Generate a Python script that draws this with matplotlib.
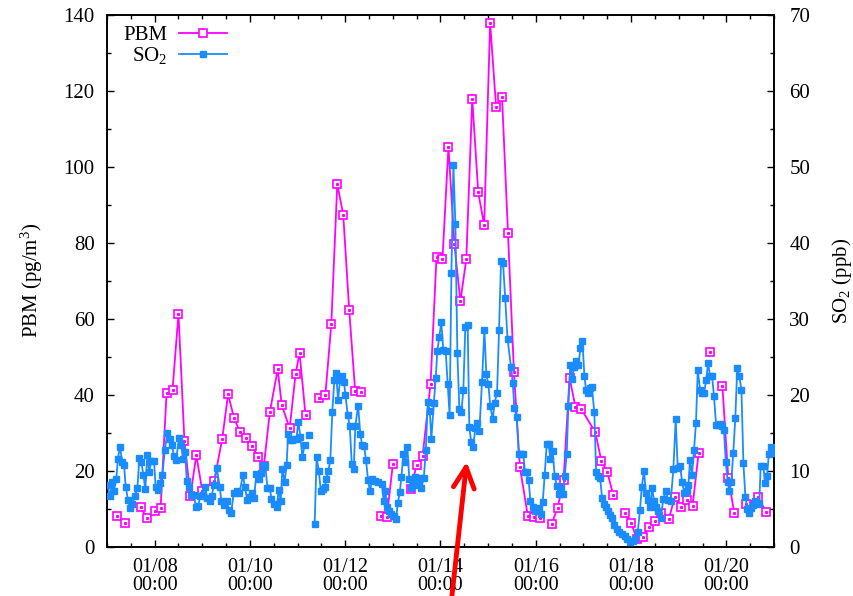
import numpy as np
import pandas as pd
import matplotlib
matplotlib.use('Agg')
import matplotlib.pyplot as plt
import matplotlib.dates as mdates
from matplotlib.ticker import MultipleLocator

plt.rcParams['font.family'] = ['Liberation Serif', 'DejaVu Serif']
plt.rcParams['mathtext.fontset'] = 'custom'
plt.rcParams['mathtext.rm'] = 'Liberation Serif'
plt.rcParams['mathtext.it'] = 'Liberation Serif:italic'

# ------------------------------------------------------------------
# data: hours since 01/07 00:00
t0 = pd.Timestamp('2014-01-07 00:00')

pbm_hours = [5, 9, 13, 17, 20, 24, 27, 30, 33, 36, 39, 42, 45, 48, 54, 58, 61, 64, 67, 70,
             73, 76, 79, 82, 86, 88, 92, 95, 97, 100, 103, 107, 110, 113, 116, 119, 122, 125,
             128, 132, 138, 141, 144, 148, 153, 156, 159, 163, 166, 169, 172, 175, 178, 181,
             184, 187, 190, 193, 196, 199, 202, 205, 208, 212, 215, 218, 221, 224, 227, 230,
             233, 236, 239, 246, 249, 252, 255, 258, 261, 264, 267, 270, 273, 276, 279, 283,
             286, 289, 292, 295, 298, 301, 304, 307, 310, 313, 316, 319, 322, 328, 332]
pbm = [8.2, 6.3, np.nan, 10.5, 7.6, 9.5, 10.3, 40.5, 41.3, 61.3, 27.9, 13.4, 24.2, 14.7, 17.4,
       28.3, 40.2, 33.9, 30.2, 28.6, 26.6, 23.8, 21.3, 35.4, 46.8, 37.4, 31.2, 45.5, 51.1, 34.7,
       np.nan, 39.1, 40.0, 58.7, 95.5, 87.4, 62.4, 41.1, 40.9, np.nan, 8.2, 8.0, 21.8, np.nan,
       15.2, 21.6, 24.0, 43.0, 76.4, 75.7, 105.2, 79.7, 64.6, 75.7, 117.9, 93.3, 84.7, 137.9,
       115.8, 118.4, 82.6, 46.0, 21.0, 8.2, 8.0, 7.5, np.nan, 6.1, 10.3, 17.6, 44.5, 36.8, 36.2,
       30.2, 22.7, 19.8, 13.7, np.nan, 8.9, 6.4, 2.0, 2.7, 5.3, 6.9, 8.9, 7.3, 13.1, 10.6, 12.4,
       10.8, 24.6, np.nan, 51.4, np.nan, 42.4, 18.1, 8.9, np.nan, 11.3, 13.1, 9.3]

so2_hours = [0.2, 1.5, 2.7, 3.5, 4.7, 5.5, 6.5, 7.7, 8.6, 9.4, 10.6, 11.6, 12.7, 14.0, 15.3,
             16.3, 17.3, 18.3, 19.3, 20.3, 21.3, 22.3, 23.7, 24.5, 25.7, 26.7, 27.9, 29.1, 30.4,
             31.6, 32.6, 33.8, 34.8, 36.3, 37.4, 38.3, 39.3, 40.2, 41.3, 42.5, 43.8, 44.8, 46.0,
             46.9, 48.2, 49.4, 50.5, 51.7, 52.7, 53.9, 55.3, 56.8, 57.6, 58.9, 60.3, 61.5, 62.6,
             63.8, 65.3, 66.7, 68.5, 69.4, 70.7, 71.9, 73.1, 74.1, 75.2, 76.4, 77.4, 78.6, 79.8,
             80.8, 82.1, 82.8, 84.1, 85.5, 86.5, 87.5, 88.3, 89.5, 90.5, 91.2, 92.2, 93.2, 94.2,
             95.4, 96.4, 97.4, 98.4, 99.6, 100.6, 101.6, 103.1, 104.6, 105.6, 106.7, 107.7, 108.8,
             109.7, 110.5, 111.5, 112.5, 113.5, 114.5, 115.4, 116.4, 117.4, 118.5, 119.4, 120.1,
             121.3, 122.3, 123.3, 124.3, 125.1, 126.5, 127.6, 128.5, 129.5, 130.5, 131.5, 132.5,
             133.5, 135.0, 136.5, 138.5, 139.4, 140.2, 141.1, 142.2, 143.2, 144.4, 145.6, 146.5,
             147.5, 148.3, 149.3, 150.3, 151.3, 152.3, 153.3, 154.3, 155.3, 156.5, 157.5, 158.3,
             159.6, 160.6, 161.6, 162.6, 163.4, 164.6, 165.6, 166.4, 167.4, 168.4, 169.4, 170.6,
             171.6, 172.6, 173.5, 174.5, 175.5, 176.5, 177.5, 178.5, 179.5, 180.5, 181.7, 182.5,
             183.5, 184.5, 185.5, 186.6, 187.6, 188.9, 190.1, 191.1, 192.1, 193.1, 194.3, 195.3,
             196.5, 197.5, 198.5, 199.5, 200.6, 201.8, 203.5, 204.4, 205.2, 206.4, 207.4, 208.6,
             209.7, 210.6, 211.4, 212.4, 213.3, 214.5, 215.6, 216.6, 217.8, 218.6, 219.5, 220.5,
             221.5, 222.5, 223.3, 224.5, 225.5, 226.6, 227.6, 228.6, 229.6, 230.6, 231.6, 232.4,
             233.4, 234.4, 235.4, 236.4, 237.5, 238.5, 239.5, 240.5, 241.3, 242.3, 243.3, 244.3,
             245.5, 246.4, 247.4, 248.4, 249.4, 250.4, 251.4, 252.4, 253.4, 254.4, 255.6, 256.8,
             258.1, 259.5, 260.8, 262.1, 263.5, 264.8, 266.2, 267.4, 268.5, 269.4, 270.5, 271.5,
             272.7, 273.6, 274.7, 275.6, 276.6, 277.7, 278.9, 280.3, 281.5, 282.6, 284.0, 285.3,
             286.5, 287.5, 288.7, 289.7, 290.8, 292.1, 292.9, 293.7, 294.7, 295.7, 296.7, 297.6,
             298.8, 299.8, 300.8, 301.8, 302.8, 303.8, 304.8, 305.8, 306.8, 307.8, 308.8, 309.8,
             310.8, 311.7, 312.7, 313.5, 314.5, 315.5, 316.5, 317.5, 318.5, 319.6, 320.6, 321.6,
             322.6, 323.6, 324.6, 325.6, 326.6, 327.6, 328.6, 329.3, 330.6, 331.5, 332.5, 333.4,
             334.4, 335.4, 336.4]
so2 = [8.2, 6.7, 8.5, 7.4, 9.0, 11.6, 13.2, 11.2, 10.8, 7.9, 6.2, 5.1, 5.7, 6.7, 7.7,
       11.7, 11.2, 9.5, 7.6, 12.1, 9.9, 11.3, 11.3, 7.9, 7.5, 8.4, 9.5, 12.7, 15.0,
       14.2, 13.4, 12.0, 11.4, 14.4, 13.4, 11.6, 12.5, 8.7, 7.9, 6.8, 6.8, 5.2, 5.4,
       6.7, 6.9, 7.9, 6.4, 6.0, 6.7, 8.2, 10.4, 7.9, 6.0, 5.5, 6.0, 4.9, 4.5,
       7.1, 7.3, 7.1, 9.5, 7.9, 6.2, 6.6, 7.1, 6.4, 9.6, 9.0, 9.7, 10.8, 10.6,
       7.8, 7.7, 6.3, 5.7, 5.3, 7.5, 6.1, 10.2, 8.6, 10.8, 14.9, 14.1, 14.1, 14.2,
       14.2, 16.5, 14.5, 11.9, 13.4, np.nan, 14.7, np.nan, 3.0, 11.8, 10.0, 7.4, 7.6,
       7.9, 9.0, 10.0, 11.4, 17.8, 22.0, 22.9, 19.3, 22.0, 22.5, 21.7, 20.0,
       17.3, 15.9, 10.9, 10.2, 15.9, 18.6, 14.9, 13.4, 13.3, 11.4, 8.8, 7.3,
       8.9, 8.7, 8.5, 8.3, 6.0, 7.4, 5.3, 4.8, 4.4, 4.1, 3.7, 5.8,
       7.2, 9.2, 12.2, 11.2, 13.2, 8.9, 7.8, 8.3, 9.2, 8.2, 9.1, 7.7,
       9.1, 12.7, 19.1, 17.9, 14.2, 18.9, 22.2, 25.8, 27.6, 29.6, 25.9, 25.8,
       21.5, 17.3, 36.1, 50.3, 42.5, 25.5, 18.2, 17.7, 20.6, 28.9, 29.2, 15.8,
       13.8, 13.1, 15.6, 16.3, 15.3, 21.7, 28.6, 22.7, 21.4, 18.5, 16.8, 19.0,
       20.3, 28.6, 37.6, 37.4, 32.7, 27.3, 23.7, 21.6, 18.3, 17.1, 12.2, 12.2,
       12.2, 9.8, 9.8, 8.8, 6.0, 5.2, 4.7, 4.9, 5.1, 4.4, 5.9, 9.5,
       13.5, 13.5, 11.6, 12.6, 9.4, 8.0, 7.0, 7.7, 7.0, 9.4, 12.2, 18.5,
       24.0, 22.1, 23.7, 24.4, 23.9, 26.2, 27.1, 22.5, 20.7, 20.2, 20.9, 21.0,
       17.7, 9.8, 9.4, 9.1, 6.5, 5.6, 5.2, 4.7, 4.2, 3.8, 2.9, 2.4,
       2.0, 1.75, 1.45, 1.1, 0.7, 0.85, 1.1, 2.0, 4.9, 7.9, 10.0, 7.1,
       6.2, 5.3, 7.7, 6.0, 5.3, 4.8, 3.8, 6.3, 7.4, 6.2, 6.1, 10.2,
       16.8, 10.4, 10.7, 8.6, 7.1, 7.4, 8.2, 11.4, 9.5, 12.7, 16.3, 23.3,
       20.6, 20.3, 20.3, 21.9, 24.2, 22.5, 22.5, 19.8, 16.1, 16.1, 16.2, 15.9,
       15.4, 11.2, 8.6, 7.3, 8.6, 12.4, 16.9, 23.5, 22.5, 20.7, 11.0, 6.6,
       5.0, 4.5, 5.1, 5.5, 6.0, 5.8, 5.7, 10.7, 10.7, 8.4, 9.3, 12.2,
       13.2, 12.4, 12.5]

x_ticks_days = [8, 10, 12, 14, 16, 18, 20]

pbm_time = t0 + pd.to_timedelta(pbm_hours, unit='h')
so2_time = t0 + pd.to_timedelta(so2_hours, unit='h')

# ------------------------------------------------------------------
magenta = '#ff00ff'
blue = '#1a8cff'
fs = 15

fig = plt.figure(figsize=(8.54, 5.96), dpi=100)
ax = fig.add_axes([0.1253, 0.0822, 0.781, 0.8931])
ax2 = ax.twinx()

l1, = ax.plot(pbm_time, pbm, color=magenta, lw=1.3, marker='s', ms=5.5,
              mfc='white', mec=magenta, mew=1.2, label='PBM', zorder=3)
ax.plot(pbm_time, pbm, ls='none', marker='s', ms=1.2, color=magenta, zorder=4)
l2, = ax2.plot(so2_time, so2, color=blue, lw=1.3, marker='s', ms=4.8,
               mfc=blue, mec=blue, label='SO$_2$', zorder=3)

ax.set_xlim(t0, t0 + pd.Timedelta(days=14))
ax.set_ylim(0, 140)
ax2.set_ylim(0, 70)

ax.xaxis.set_major_locator(mdates.DayLocator(bymonthday=x_ticks_days))
ax.xaxis.set_minor_locator(mdates.HourLocator(byhour=[0, 12]))
ax.xaxis.set_major_formatter(mdates.DateFormatter('%m/%d\n%H:%M'))
ax.yaxis.set_major_locator(MultipleLocator(20))
ax.yaxis.set_minor_locator(MultipleLocator(10))
ax2.yaxis.set_major_locator(MultipleLocator(10))
ax2.yaxis.set_minor_locator(MultipleLocator(5))

ax.tick_params(axis='x', which='both', direction='in', top=True, labelsize=14.5, pad=8)
ax.tick_params(axis='x', which='major', length=5, width=1)
ax.tick_params(axis='x', which='minor', length=3, width=1)
ax.tick_params(axis='y', which='both', direction='in', labelsize=fs, pad=9)
ax.tick_params(axis='y', which='major', length=5, width=1)
ax.tick_params(axis='y', which='minor', length=3, width=1)
ax2.tick_params(axis='y', which='both', direction='in', labelsize=fs, pad=11)
ax2.tick_params(axis='y', which='major', length=5, width=1)
ax2.tick_params(axis='y', which='minor', length=3, width=1)
for a in (ax, ax2):
    for s in a.spines.values():
        s.set_linewidth(1.2)

ax.set_ylabel('PBM (pg/m$^3$)', fontsize=fs, labelpad=13)
ax2.set_ylabel('SO$_2$ (ppb)', fontsize=fs, labelpad=14, rotation=90)

ax2.legend(handles=[l1, l2], loc='upper left', bbox_to_anchor=(0.012, 0.995),
           frameon=False, markerfirst=False, fontsize=fs, handlelength=2.3,
           handletextpad=0.55, labelspacing=0.0, borderaxespad=0, numpoints=1)

# red arrow pointing at 01/14 afternoon
ax2.annotate('', xy=(467, 137), xycoords='figure pixels',
             xytext=(451, -8), textcoords='figure pixels',
             arrowprops=dict(arrowstyle='->,head_length=1.0,head_width=0.5',
                             color='red', lw=3.5, mutation_scale=15),
             annotation_clip=False)

fig.canvas.draw()
for lbl in ax.get_xticklabels():
    lbl.set_linespacing(0.95)

fig.savefig('out.png', dpi=100)
